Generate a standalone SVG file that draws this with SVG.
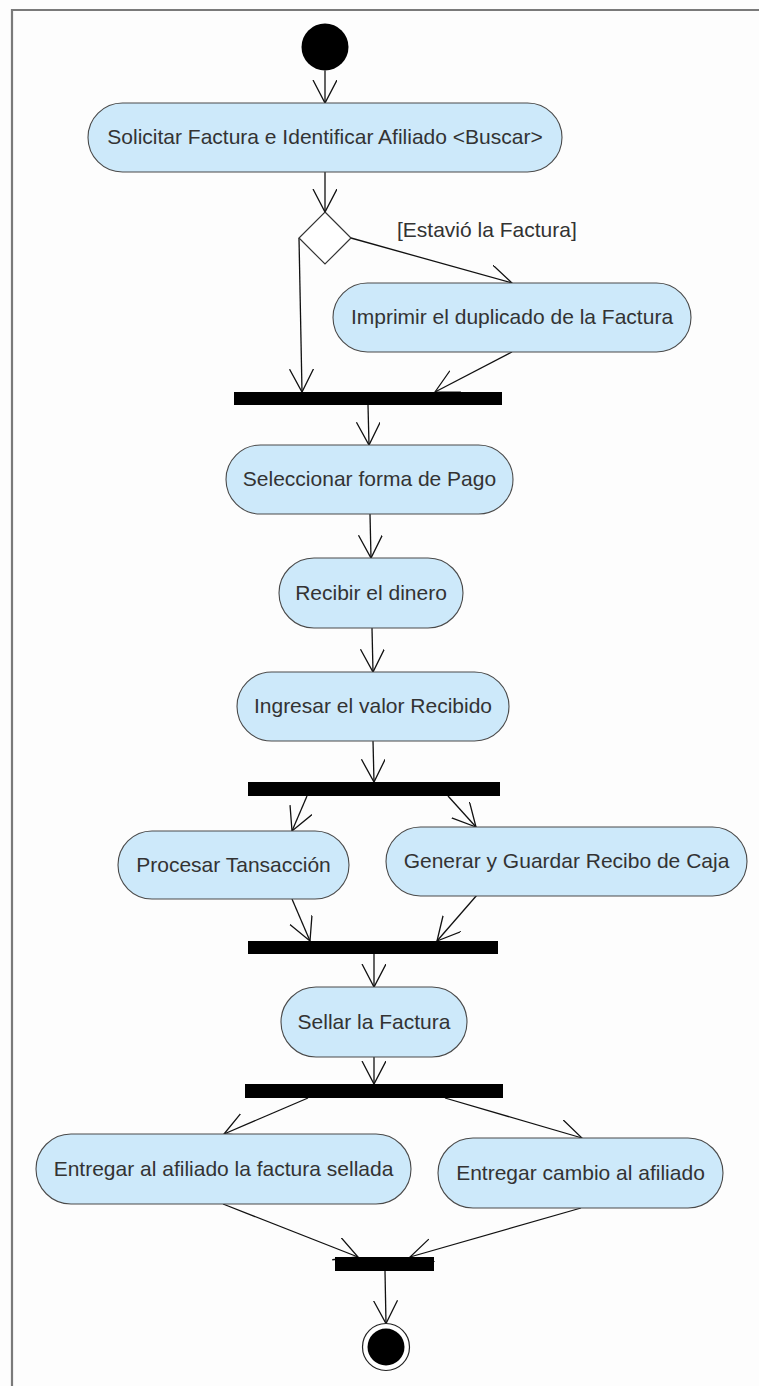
<svg xmlns="http://www.w3.org/2000/svg" width="759" height="1386" viewBox="0 0 759 1386">
  <style>
    .action { fill: #cde9fa; stroke: #4a4a4a; stroke-width: 1.1; }
    .label { font-family: "Liberation Sans", Arial, sans-serif; font-size: 21px; fill: #333333; text-anchor: middle; }
    .guard { font-family: "Liberation Sans", Arial, sans-serif; font-size: 21px; fill: #333333; }
    .bar { fill: #000000; }
    .flow { fill: none; stroke: #111111; stroke-width: 1.3; marker-end: url(#open-arrow); }
  </style>
  <defs>
    <marker id="open-arrow" markerUnits="userSpaceOnUse" markerWidth="30" markerHeight="30" refX="23" refY="12" orient="auto">
      <path d="M0,0 L23,12 L0,24" fill="none" stroke="#111111" stroke-width="1.3"/>
    </marker>
  </defs>

  <!-- background and frame -->
  <rect x="0" y="0" width="759" height="1386" fill="#fdfdfd"/>
  <path d="M12,1386 V10 H759" fill="none" stroke="#7a7a7a" stroke-width="2.2"/>

  <!-- control flows -->
  <g id="connectors">
    <line class="flow" x1="325" y1="70.5" x2="325" y2="103"/>
    <line class="flow" x1="325" y1="172" x2="325" y2="212"/>
    <line class="flow" x1="351" y1="238" x2="512" y2="283"/>
    <line class="flow" x1="299" y1="238" x2="302" y2="392"/>
    <line class="flow" x1="512" y1="352" x2="435" y2="392"/>
    <line class="flow" x1="368" y1="405" x2="369" y2="445"/>
    <line class="flow" x1="370" y1="514" x2="371" y2="558"/>
    <line class="flow" x1="372" y1="628" x2="373" y2="672"/>
    <line class="flow" x1="373" y1="741" x2="374" y2="782"/>
    <line class="flow" x1="307" y1="796" x2="292" y2="831"/>
    <line class="flow" x1="448" y1="796" x2="476" y2="827"/>
    <line class="flow" x1="292" y1="899" x2="310" y2="941"/>
    <line class="flow" x1="477" y1="895" x2="437" y2="941"/>
    <line class="flow" x1="374" y1="954" x2="374" y2="987"/>
    <line class="flow" x1="374" y1="1057" x2="374" y2="1084"/>
    <line class="flow" x1="308" y1="1098" x2="224" y2="1134"/>
    <line class="flow" x1="445" y1="1098" x2="582" y2="1138"/>
    <line class="flow" x1="223" y1="1204" x2="358" y2="1257"/>
    <line class="flow" x1="581" y1="1208" x2="410" y2="1257"/>
    <line class="flow" x1="385" y1="1271" x2="386" y2="1323.5"/>
    <text id="guard-label" class="guard" x="397" y="237">[Estavió la Factura]</text>
  </g>

  <g id="start">
    <circle cx="325" cy="47" r="23.5" fill="#000000"/>
  </g>

  <g id="solicitar-factura">
    <rect class="action" x="88" y="103" width="474" height="69" rx="34.5"/>
    <text class="label" x="325" y="144">Solicitar Factura e Identificar Afiliado &lt;Buscar&gt;</text>
  </g>

  <g id="decision">
    <polygon points="325,212 351,238 325,264 299,238" fill="#ffffff" stroke="#333333" stroke-width="1.2"/>
  </g>

  <g id="imprimir-duplicado">
    <rect class="action" x="333" y="283" width="358" height="69" rx="34.5"/>
    <text class="label" x="512" y="324">Imprimir el duplicado de la Factura</text>
  </g>

  <g id="join-1">
    <rect class="bar" x="234" y="392" width="268" height="13"/>
  </g>

  <g id="seleccionar-pago">
    <rect class="action" x="226" y="445" width="287" height="69" rx="34.5"/>
    <text class="label" x="369.5" y="486">Seleccionar forma de Pago</text>
  </g>

  <g id="recibir-dinero">
    <rect class="action" x="279" y="558" width="184" height="70" rx="35"/>
    <text class="label" x="371" y="600">Recibir el dinero</text>
  </g>

  <g id="ingresar-valor">
    <rect class="action" x="237" y="672" width="272" height="69" rx="34.5"/>
    <text class="label" x="373" y="713">Ingresar el valor Recibido</text>
  </g>

  <g id="fork-1">
    <rect class="bar" x="248" y="782" width="252" height="14"/>
  </g>

  <g id="procesar-transaccion">
    <rect class="action" x="118" y="831" width="231" height="68" rx="34"/>
    <text class="label" x="233.5" y="872">Procesar Tansacción</text>
  </g>

  <g id="generar-recibo">
    <rect class="action" x="386" y="827" width="361" height="69" rx="34.5"/>
    <text class="label" x="566.5" y="868">Generar y Guardar Recibo de Caja</text>
  </g>

  <g id="join-2">
    <rect class="bar" x="248" y="941" width="250" height="13"/>
  </g>

  <g id="sellar-factura">
    <rect class="action" x="281" y="987" width="186" height="70" rx="35"/>
    <text class="label" x="374" y="1029">Sellar la Factura</text>
  </g>

  <g id="fork-2">
    <rect class="bar" x="245" y="1084" width="258" height="14"/>
  </g>

  <g id="entregar-factura">
    <rect class="action" x="36" y="1134" width="375" height="70" rx="35"/>
    <text class="label" x="223.5" y="1176">Entregar al afiliado la factura sellada</text>
  </g>

  <g id="entregar-cambio">
    <rect class="action" x="438" y="1138" width="285" height="70" rx="35"/>
    <text class="label" x="580.5" y="1180">Entregar cambio al afiliado</text>
  </g>

  <g id="join-3">
    <rect class="bar" x="335" y="1257" width="99" height="14"/>
  </g>

  <g id="end">
    <circle cx="386" cy="1347" r="23.5" fill="#ffffff" stroke="#222222" stroke-width="1.2"/>
    <circle cx="386" cy="1347" r="18.5" fill="#000000"/>
  </g>
</svg>
